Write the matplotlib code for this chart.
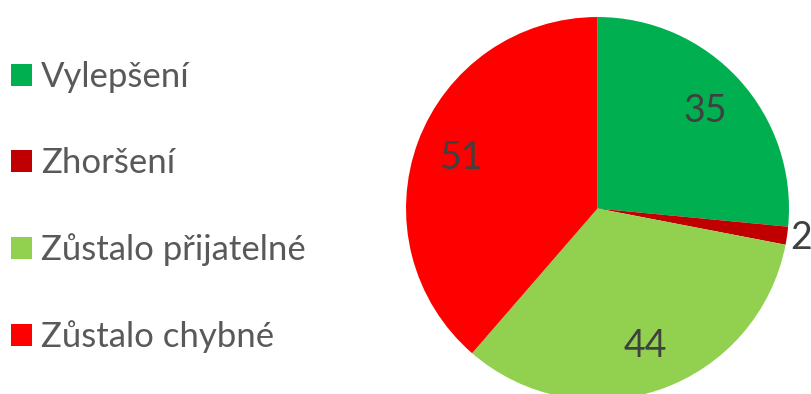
import matplotlib.pyplot as plt
import numpy as np

# ============================
# Data
# ============================
kategorie = ["Vylepšení", "Zhoršení", "Zůstalo přijatelné", "Zůstalo chybné"]
hodnoty = [35, 2, 44, 51]
barvy = ["#00B050", "#C00000", "#92D050", "#FF0000"]

plt.rcParams["font.family"] = ["Lato", "DejaVu Sans"]

fig = plt.figure(figsize=(8.12, 3.94), dpi=100)
ax = fig.add_axes([0.5, -0.0152, 0.4717, 0.972])

wedges, _ = ax.pie(
    hodnoty,
    colors=barvy,
    startangle=90,
    counterclock=False,
    radius=1.0,
    wedgeprops={"linewidth": 0},
)
ax.set_xlim(-1, 1)
ax.set_ylim(-1, 1)
ax.set_aspect("equal")

# Popisky hodnot (uvnitř výseče, malé hodnoty vně)
for w, v in zip(wedges, hodnoty):
    stred = np.deg2rad((w.theta1 + w.theta2) / 2)
    if v > 5:
        r = 0.76
        x, y = r * np.cos(stred), r * np.sin(stred)
        ax.text(x, y, str(v), ha="center", va="center", fontsize=27, color="#404040")
    else:
        r = 1.08
        x, y = r * np.cos(stred), r * np.sin(stred)
        ax.text(x - 0.065, y, str(v), ha="left", va="center", fontsize=27,
                color="#404040", clip_on=False)

# Legenda
fig.legend(
    wedges, kategorie,
    loc="upper left",
    bbox_to_anchor=(-0.003, 0.88),
    frameon=False,
    fontsize=25,
    labelcolor="#595959",
    handlelength=0.6,
    handleheight=0.6,
    handletextpad=0.26,
    labelspacing=1.56,
    borderaxespad=0,
)

plt.savefig("out.png", dpi=100)
plt.close()
